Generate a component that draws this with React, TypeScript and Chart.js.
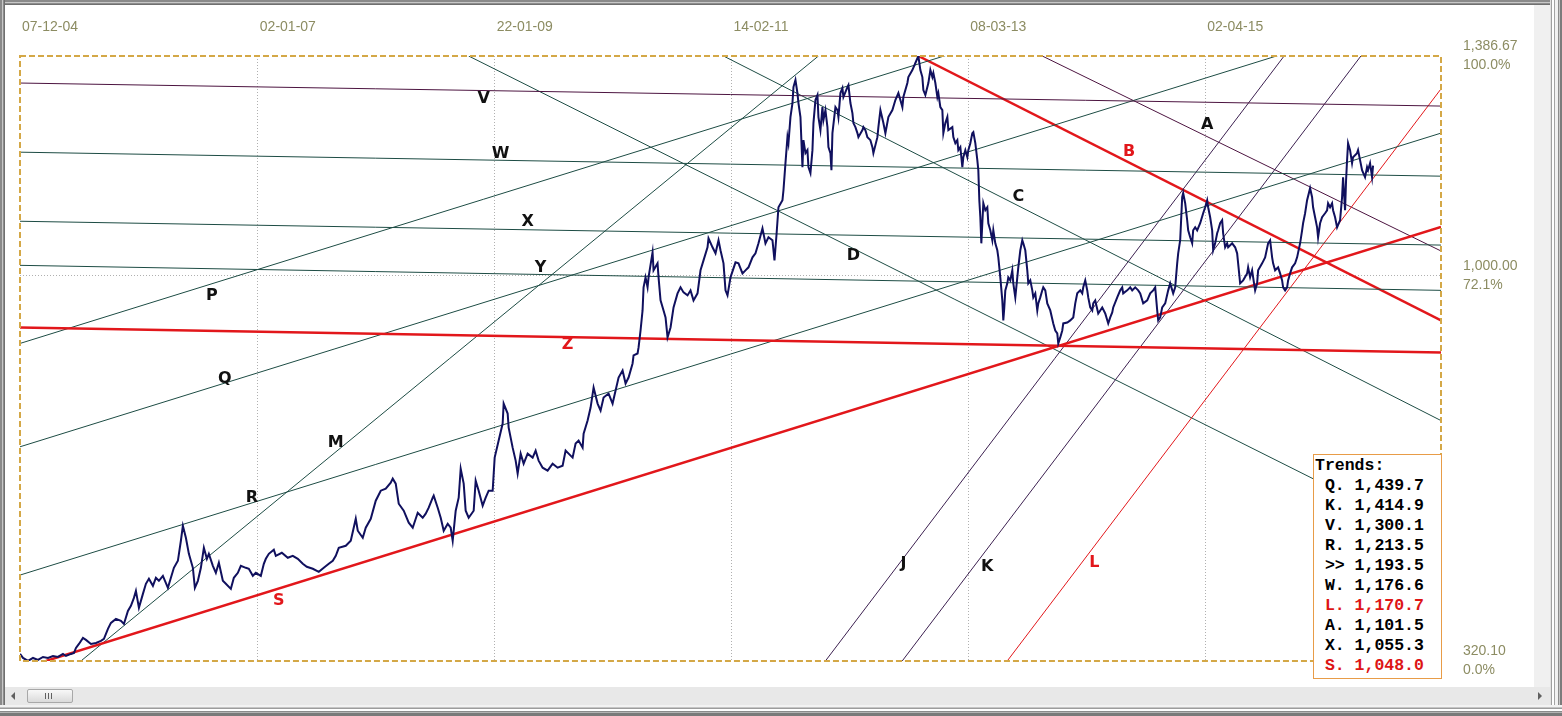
import React, { useEffect, useRef } from 'react';
import { Chart, registerables } from 'chart.js';

Chart.register(...registerables);

// ---------------- data ----------------
const BAR_MAX = 2844;
const PRICE_MIN = 320.1;
const PRICE_MAX = 1386.67;

const dateTickBars = [0, 476, 950, 1424, 1898, 2372];
const dateTickLabels = ['07-12-04', '02-01-07', '22-01-09', '14-02-11', '08-03-13', '02-04-15'];

const priceTickValues = [320.1, 1000, 1386.67];
const priceTickLabels = ['320.10', '1,000.00', '1,386.67'];
const priceTickPercents = ['0.0%', '72.1%', '100.0%'];

// [bar, price]
const pricePoints: [number, number][] = [
  [0,332.5],[6,325.4],[16,320.1],[26,325.4],[36,321.9],[46,327.2],[56,325.4],[66,328.9],[76,327.2],[86,332.5],[92,328.9],[102,332.5],[108,334.2],[112,343.1],[118,350.1],[126,360.7],[132,357.2],[142,350.1],[152,351.9],[162,355.4],[168,358.9],[176,376.6],[182,387.2],[192,394.3],[202,390.7],[208,385.4],[216,408.4],[222,417.2],[228,431.3],[232,443.7],[238,413.7],[246,438.4],[252,456.1],[258,464.9],[266,452.5],[272,466.7],[278,461.4],[286,470.2],[296,449.0],[302,466.7],[308,484.3],[316,496.7],[322,532.0],[326,558.5],[332,537.3],[338,509.0],[346,484.3],[350,449.0],[356,461.4],[362,484.3],[368,519.6],[374,500.2],[378,509.0],[386,487.9],[392,475.5],[398,493.2],[406,461.4],[412,456.1],[422,447.2],[428,466.7],[436,475.5],[442,487.9],[452,484.3],[458,482.6],[466,470.2],[472,475.5],[482,470.2],[488,491.4],[492,500.2],
  [498,509.0],[508,516.1],[512,505.5],[524,510.8],[536,502.0],[546,505.5],[556,500.2],[566,491.4],[574,486.1],[586,482.6],[598,477.3],[608,484.3],[618,491.4],[626,496.7],[632,505.5],[638,519.6],[652,523.2],[662,532.0],[672,570.8],[676,549.7],[686,537.3],[692,555.0],[702,570.8],[712,602.6],[722,620.3],[732,623.8],[742,634.4],[746,641.5],[752,632.7],[758,597.3],[768,585.0],[778,563.8],[786,555.0],[796,581.4],[806,572.6],[812,579.7],[818,590.3],[826,607.9],[828,611.5],[836,590.3],[842,572.6],[848,549.7],[856,562.0],[862,555.0],[866,532.0],[872,585.0],[878,607.9],[882,659.1],[888,632.7],[892,585.0],[898,572.6],[908,585.0],[912,638.0],[918,620.3],[926,593.8],[932,607.9],[938,620.3],[946,620.3],[950,678.6],[958,708.6],[966,738.6],[968,773.9],
  [976,756.3],[978,731.5],[986,696.2],[992,673.3],[996,650.3],[1002,685.6],[1008,668.0],[1016,685.6],[1026,678.6],[1032,690.9],[1038,673.3],[1046,660.9],[1056,655.6],[1066,668.0],[1076,660.9],[1086,664.4],[1092,690.9],[1098,685.6],[1106,678.6],[1112,703.3],[1118,708.6],[1126,696.2],[1128,720.9],[1136,743.9],[1142,766.9],[1148,802.2],[1156,773.9],[1162,761.6],[1168,784.5],[1178,791.6],[1186,773.9],[1192,796.9],[1198,819.8],[1206,832.2],[1212,809.2],[1218,819.8],[1226,844.6],[1228,858.7],[1236,862.2],[1238,872.8],[1242,902.8],[1246,938.1],[1248,978.8],[1252,996.4],[1256,978.8],[1258,996.4],[1266,1040.5],[1268,1008.8],[1276,1021.1],[1278,996.4],[1282,955.8],[1288,938.1],[1292,925.8],[1296,890.5],[1302,908.1],[1308,943.4],[1316,968.2],[1322,978.8],[1328,969.9],[1336,964.6],[1342,973.5],[1348,955.8],[1356,968.2],[1362,1008.8],[1368,1026.4],[1376,1049.4],[1378,1065.3],[1386,1049.4],[1392,1038.8],[1398,1061.8],[1402,1044.1],[1408,1021.1],[1412,973.5],[1416,964.6],[1422,996.4],[1432,1022.9],[1438,1021.1],[1446,1003.4],[1452,1008.8],[1458,1014.1],[1466,1031.7],[1472,1038.8],[1478,1056.4],[1486,1082.9],[1492,1056.4],[1498,1067.0],[1506,1061.8],[1510,1026.4],[1514,1070.6],
  [1518,1120.0],[1526,1132.4],[1528,1150.0],[1532,1197.7],[1536,1243.6],[1538,1233.0],[1542,1279.0],[1546,1303.7],[1548,1331.9],[1552,1344.3],[1556,1321.3],[1558,1303.7],[1562,1279.0],[1566,1190.7],[1568,1238.3],[1572,1215.4],[1576,1220.7],[1578,1190.7],[1582,1180.1],[1586,1220.7],[1588,1268.4],[1592,1309.0],[1596,1317.8],[1598,1279.0],[1602,1256.0],[1606,1296.6],[1608,1273.7],[1612,1291.3],[1616,1261.3],[1618,1226.0],[1622,1215.4],[1624,1185.4],[1626,1250.7],[1632,1296.6],[1636,1291.3],[1638,1279.0],[1642,1321.3],[1646,1330.2],[1648,1314.3],[1656,1331.9],[1658,1335.5],[1662,1303.7],[1666,1286.0],[1668,1268.4],[1672,1261.3],[1676,1250.7],[1678,1243.6],[1686,1256.0],[1688,1261.3],[1692,1256.0],[1696,1243.6],[1702,1238.3],[1706,1226.0],[1708,1215.4],[1716,1243.6],[1718,1261.3],[1722,1291.3],[1728,1268.4],[1732,1250.7],[1738,1279.0],[1746,1291.3],[1752,1309.0],[1758,1321.3],[1766,1296.6],[1768,1314.3],[1776,1339.0],[1778,1349.5],[1786,1361.9],[1792,1374.3],[1798,1386.67],[1802,1361.9],[1806,1349.5],[1808,1326.6],[1812,1317.8],[1818,1339.0],[1822,1361.9],[1826,1349.5],[1828,1356.6],[1832,1339.0],[1836,1314.3],[1838,1321.3],[1842,1296.6],[1846,1291.3],[1848,1250.7],[1852,1268.4],[1856,1279.0],[1858,1256.0],[1866,1261.3],[1868,1243.6],[1872,1233.0],[1876,1238.3],[1878,1220.7],[1882,1226.0],[1886,1190.7],[1888,1208.3],[1892,1220.7],[1896,1208.3],[1898,1220.7],[1902,1233.0],[1906,1250.7],[1908,1252.5],[1912,1233.0],[1916,1203.0],[1918,1185.4],[1920,1132.4],[1922,1102.4],[1924,1056.4],[1926,1091.8],[1928,1127.1],[1932,1114.7],[1936,1120.0],[1938,1091.8],[1942,1079.4],[1946,1061.8],[1948,1079.4],[1952,1056.4],[1956,1044.1],[1958,1031.7],[1962,996.4],[1966,955.8],[1968,920.5],[1970,943.4],[1972,973.5],[1976,985.8],[1978,996.4],[1982,991.1],[1986,1008.8],[1988,985.8],[1992,961.1],[1996,996.4],[1998,1014.1],[2002,1044.1],[2006,1061.8],[2008,1056.4],[2012,1044.1],[2016,1008.8],[2018,985.8],[2022,991.1],[2026,973.5],[2028,961.1],[2032,968.2],[2036,938.1],[2038,950.5],[2042,961.1],[2046,973.5],[2048,978.8],[2052,973.5],
  [2056,950.5],[2062,938.1],[2068,915.2],[2072,902.8],[2076,897.5],[2078,879.9],[2082,890.5],[2086,902.8],[2088,915.2],[2096,916.9],[2102,920.5],[2108,925.8],[2112,950.5],[2116,968.2],[2122,973.5],[2126,968.2],[2128,978.8],[2132,991.1],[2136,973.5],[2138,961.1],[2142,943.4],[2146,938.1],[2148,950.5],[2152,955.8],[2158,932.8],[2166,943.4],[2172,932.8],[2178,915.2],[2182,925.8],[2186,934.6],[2188,943.4],[2196,961.1],[2202,973.5],[2206,978.8],[2208,968.2],[2216,973.5],[2222,978.8],[2226,973.5],[2232,978.8],[2238,973.5],[2242,968.2],[2248,950.5],[2256,955.8],[2262,968.2],[2268,973.5],[2272,978.8],[2276,938.1],[2278,920.5],[2282,925.8],[2286,943.4],[2292,950.5],[2298,973.5],[2302,985.8],[2308,968.2],[2312,978.8],[2316,1021.1],[2318,1038.8],[2322,1061.8],[2326,1137.7],[2328,1144.8],[2332,1127.1],[2336,1097.1],[2338,1079.4],[2342,1067.0],[2346,1056.4],[2348,1079.4],[2352,1084.7],[2356,1079.4],[2362,1091.8],[2368,1109.4],[2372,1120.0],[2376,1132.4],[2378,1120.0],[2382,1102.4],[2386,1079.4],[2388,1044.1],[2392,1056.4],[2396,1074.1],[2398,1079.4],[2402,1091.8],[2406,1097.1],[2408,1074.1],[2412,1049.4],[2416,1056.4],[2418,1049.4],[2426,1056.4],[2432,1049.4],[2436,1038.8],[2438,1021.1],[2442,985.8],[2448,991.1],[2456,1003.4],[2458,1014.1],[2462,996.4],[2466,1008.8],[2468,996.4],[2472,973.5],[2476,985.8],[2478,1008.8],[2486,1021.1],[2492,1031.7],[2498,1056.4],[2502,1061.8],[2506,1031.7],[2508,1021.1],[2512,1008.8],[2518,1014.1],[2522,1003.4],[2526,991.1],[2528,978.8],[2532,973.5],[2536,978.8],[2538,991.1],[2542,1003.4],[2546,1014.1],[2552,1021.1],[2556,1031.7],[2562,1056.4],[2566,1079.4],[2568,1091.8],[2572,1109.4],[2576,1132.4],[2582,1153.6],[2586,1137.7],[2588,1120.0],[2592,1102.4],[2596,1084.7],[2598,1067.0],[2602,1091.8],[2606,1102.4],[2612,1109.4],[2616,1114.7],[2618,1127.1],[2622,1120.0],[2626,1127.1],[2628,1114.7],[2632,1102.4],[2636,1084.7],[2642,1097.1],[2646,1137.7],[2648,1173.0],[2652,1114.7],[2654,1167.7],[2656,1203.0],[2658,1233.0],[2662,1220.7],[2666,1197.7],[2668,1208.3],[2676,1215.4],[2678,1220.7],[2682,1203.0],[2686,1185.4],[2692,1173.0],[2696,1190.7],[2698,1185.4],[2702,1197.7],[2706,1173.0],[2708,1193.5],
];

// trend lines, each from [bar, price] to [bar, price]
const trendLineNames = ['V', 'W', 'X', 'Y', 'Z', 'P', 'Q', 'R', 'S', 'M', 'J', 'K', 'L', 'D', 'C', 'A', 'B'];
const trendLineFrom: [number, number][] = [
  [0, 1339.0], [0, 1217.1], [0, 1095.3], [0, 1017.6], [0, 908.1],
  [0, 879.9], [0, 697.7], [0, 471.5], [52, 320.1],
  [122, 320.1], [1612, 320.1], [1765.7, 320.1], [1975.9, 320.1],
  [898, 1386.67], [1408, 1386.67], [2046, 1386.67], [1798, 1386.67],
];
const trendLineTo: [number, number][] = [
  [2844, 1298.4], [2844, 1174.8], [2844, 1053.3], [2844, 973.5], [2844, 864.0],
  [2844, 1659.2], [2844, 1476.9], [2844, 1250.7], [2844, 1085.3],
  [1598, 1386.67], [2530, 1386.67], [2683.7, 1386.67], [2844, 1328.7],
  [2844, 528.5], [2844, 743.9], [2844, 1042.9], [2844, 920.5],
];

// letter labels placed at [bar, price]
const labelText = ['V', 'W', 'X', 'Y', 'P', 'Q', 'M', 'R', 'S', 'Z', 'D', 'C', 'B', 'A', 'J', 'K', 'L'];
const labelBar = [928, 962, 1016, 1042, 384, 410, 632, 464, 518, 1096, 1668, 1998, 2220, 2376, 1768, 1936, 2150];
const labelPrice = [1310.7, 1213.6, 1093.5, 1012.3, 964.6, 818.1, 705.1, 607.9, 426.0, 878.1, 1033.5, 1137.7, 1217.1, 1264.8, 491.4, 486.1, 493.1];

// trends table
const trendBoxNames = ['Q', 'K', 'V', 'R', '>>', 'W', 'L', 'A', 'X', 'S'];
const trendBoxValues = ['1,439.7', '1,414.9', '1,300.1', '1,213.5', '1,193.5', '1,176.6', '1,170.7', '1,101.5', '1,055.3', '1,048.0'];

// ---------------- styles ----------------
const NAVY = '#10105e';
const TEAL = '#1d4c44';
const PLUM = '#4c1440';
const VIOLET = '#3c2050';
const RED = '#e2171b';
const AXIS_TEXT = '#8c8c62';
const GOLD = '#d4a847';
const redNames = ['S', 'Z', 'B', 'L'];

const lineStyle: Record<string, { color: string; width: number }> = {
  V: { color: PLUM, width: 1 },
  W: { color: TEAL, width: 1 },
  X: { color: TEAL, width: 1 },
  Y: { color: TEAL, width: 1 },
  Z: { color: RED, width: 2.5 },
  P: { color: TEAL, width: 1 },
  Q: { color: TEAL, width: 1 },
  R: { color: TEAL, width: 1 },
  S: { color: RED, width: 2.5 },
  M: { color: TEAL, width: 1 },
  J: { color: VIOLET, width: 1 },
  K: { color: VIOLET, width: 1 },
  L: { color: RED, width: 1 },
  D: { color: TEAL, width: 1 },
  C: { color: TEAL, width: 1 },
  A: { color: PLUM, width: 1 },
  B: { color: RED, width: 2.5 },
};

const labelPlugin = {
  id: 'trendLabels',
  afterDatasetsDraw(chart: any) {
    const { ctx, scales } = chart;
    const xs = scales.x;
    const ys = scales.y;
    ctx.save();
    ctx.font = 'bold 16px "DejaVu Sans", sans-serif';
    ctx.textAlign = 'center';
    ctx.textBaseline = 'middle';
    labelText.forEach((t, i) => {
      ctx.fillStyle = redNames.includes(t) ? RED : '#111111';
      ctx.fillText(t, xs.getPixelForValue(labelBar[i]), ys.getPixelForValue(labelPrice[i]));
    });
    ctx.restore();
  },
};

const framePlugin = {
  id: 'dashedFrame',
  afterDatasetsDraw(chart: any) {
    const { ctx, chartArea } = chart;
    ctx.save();
    ctx.strokeStyle = GOLD;
    ctx.lineWidth = 2;
    ctx.setLineDash([6, 3]);
    ctx.strokeRect(chartArea.left, chartArea.top, chartArea.right - chartArea.left, chartArea.bottom - chartArea.top);
    ctx.restore();
  },
};

function TrendsBox() {
  return (
    <div
      style={{
        position: 'absolute',
        left: 1313,
        top: 454,
        width: 129,
        height: 225,
        boxSizing: 'border-box',
        border: '1px solid #e89c48',
        background: '#ffffff',
        fontFamily: '"Liberation Mono", monospace',
        fontWeight: 'bold',
        fontSize: '16.5px',
        lineHeight: '20px',
        padding: '1px 0 0 1px',
        whiteSpace: 'pre',
        color: '#000',
        zIndex: 3,
      }}
    >
      <div>Trends:</div>
      {trendBoxNames.map((n, i) => (
        <div key={i} style={{ color: redNames.includes(n) ? '#dd1515' : '#000' }}>
          {' ' + (n === '>>' ? '>> ' : n + '. ') + trendBoxValues[i]}
        </div>
      ))}
    </div>
  );
}

export default function App() {
  const canvasRef = useRef<HTMLCanvasElement>(null);

  useEffect(() => {
    const canvas = canvasRef.current;
    if (!canvas) return;
    Chart.defaults.font.family = '"Liberation Sans", Arial, sans-serif';

    const datasets: any[] = [
      {
        label: 'price',
        data: pricePoints.map(([x, y]) => ({ x, y })),
        borderColor: NAVY,
        borderWidth: 2,
        pointRadius: 0,
        tension: 0,
        fill: false,
        order: 0,
      },
      ...trendLineNames.map((n, i) => ({
        label: n,
        data: [
          { x: trendLineFrom[i][0], y: trendLineFrom[i][1] },
          { x: trendLineTo[i][0], y: trendLineTo[i][1] },
        ],
        borderColor: lineStyle[n].color,
        borderWidth: lineStyle[n].width,
        pointRadius: 0,
        tension: 0,
        fill: false,
        clip: 0,
        order: 1,
      })),
    ];

    const chart = new Chart(canvas, {
      type: 'line',
      data: { datasets },
      options: {
        responsive: false,
        maintainAspectRatio: false,
        animation: false,
        events: [],
        layout: { padding: { left: 19, top: 0, right: 0, bottom: 12 } },
        plugins: {
          legend: { display: false },
          tooltip: { enabled: false },
          title: { display: false },
        },
        scales: {
          x: {
            type: 'linear',
            position: 'top',
            min: 0,
            max: BAR_MAX,
            afterBuildTicks: (axis: any) => {
              axis.ticks = dateTickBars.map((v) => ({ value: v }));
            },
            afterFit: (axis: any) => {
              axis.height = 56;
            },
            grid: {
              drawTicks: false,
              lineWidth: 1,
              color: (c: any) => (c.tick && c.tick.value > 0 ? '#b0b0b0' : 'rgba(0,0,0,0)'),
            },
            border: { display: false, dash: [1, 2] },
            ticks: {
              autoSkip: false,
              maxRotation: 0,
              minRotation: 0,
              align: 'start',
              labelOffset: 2,
              padding: 20,
              color: AXIS_TEXT,
              font: { size: 14 },
              callback: (v: any) => dateTickLabels[dateTickBars.indexOf(Number(v))],
            },
          },
          y: {
            type: 'linear',
            position: 'right',
            min: PRICE_MIN,
            max: PRICE_MAX,
            afterBuildTicks: (axis: any) => {
              axis.ticks = priceTickValues.map((v) => ({ value: v }));
            },
            afterFit: (axis: any) => {
              axis.width = 93;
            },
            grid: {
              drawTicks: false,
              lineWidth: 1,
              color: (c: any) => (c.tick && c.tick.value === 1000 ? '#b0b0b0' : 'rgba(0,0,0,0)'),
            },
            border: { display: false, dash: [1, 2] },
            ticks: {
              autoSkip: false,
              padding: 22,
              color: AXIS_TEXT,
              font: { size: 14, lineHeight: 1.36 },
              callback: (v: any) => {
                const idx = priceTickValues.indexOf(Number(v));
                return [priceTickLabels[idx], priceTickPercents[idx]];
              },
            },
          },
        },
      } as any,
      plugins: [labelPlugin, framePlugin],
    });

    return () => chart.destroy();
  }, []);

  return (
    <div
      style={{
        position: 'fixed',
        left: 0,
        top: 0,
        width: 1562,
        height: 716,
        background: '#ffffff',
        overflow: 'hidden',
      }}
    >
      <canvas
        ref={canvasRef}
        width={1534}
        height={702}
        style={{ position: 'absolute', left: 0, top: 0, width: 1534, height: 702 }}
      />
      {/* window frame */}
      <div
        style={{
          position: 'absolute', left: 0, top: 0, width: 1562, height: 5, zIndex: 2,
          background: 'linear-gradient(#8a8a8a 0 2px, #c8c8c8 2px 3px, #8c8c8c 3px 4px, #707070 4px 5px)',
        }}
      />
      <div
        style={{
          position: 'absolute', left: 0, top: 0, width: 5, height: 716, zIndex: 2,
          background: 'linear-gradient(to right, #8a8a8a 0 2px, #c8c8c8 2px 3px, #8c8c8c 3px 4px, #707070 4px 5px)',
        }}
      />
      <div style={{ position: 'absolute', left: 1534, top: 5, width: 16, height: 682, background: '#f0f0f0', zIndex: 2 }} />
      <div
        style={{
          position: 'absolute', left: 1550, top: 0, width: 12, height: 716, zIndex: 2,
          background:
            'linear-gradient(to right, #e2e2e2 0 1px, #a0a0a0 1px 2px, #ffffff 2px 4px, #a4a4a4 4px 5px, #f2f2f2 5px 8px, #8c8c8c 8px 9px, #c8c8c8 9px 10px, #7c7c7c 10px 12px)',
        }}
      />
      {/* scrollbar */}
      <div style={{ position: 'absolute', left: 5, top: 687, width: 1545, height: 18, background: '#e8e8e8', zIndex: 2 }} />
      <div
        style={{
          position: 'absolute', left: 11, top: 692, width: 0, height: 0, zIndex: 3,
          borderTop: '4px solid transparent', borderBottom: '4px solid transparent', borderRight: '4px solid #606060',
        }}
      />
      <div
        style={{
          position: 'absolute', left: 1538, top: 692, width: 0, height: 0, zIndex: 3,
          borderTop: '4px solid transparent', borderBottom: '4px solid transparent', borderLeft: '4px solid #606060',
        }}
      />
      <div
        style={{
          position: 'absolute', left: 27, top: 689, width: 46, height: 14, boxSizing: 'border-box', zIndex: 3,
          border: '1px solid #a8a8a8', borderRadius: 2, background: 'linear-gradient(#f8f8f8, #dadada)',
        }}
      >
        {[17, 20, 23].map((l) => (
          <div key={l} style={{ position: 'absolute', left: l, top: 3, width: 1, height: 6, background: '#606060' }} />
        ))}
      </div>
      <div
        style={{
          position: 'absolute', left: 0, top: 705, width: 1562, height: 11, zIndex: 2,
          background:
            'linear-gradient(#f2f2f2 0 2px, #c4c4c4 2px 3px, #9c9c9c 3px 4px, #ffffff 4px 6px, #8a8a8a 6px 7px, #b4b4b4 7px 8px, #7a7a7a 8px 11px)',
        }}
      />
      <TrendsBox />
    </div>
  );
}
